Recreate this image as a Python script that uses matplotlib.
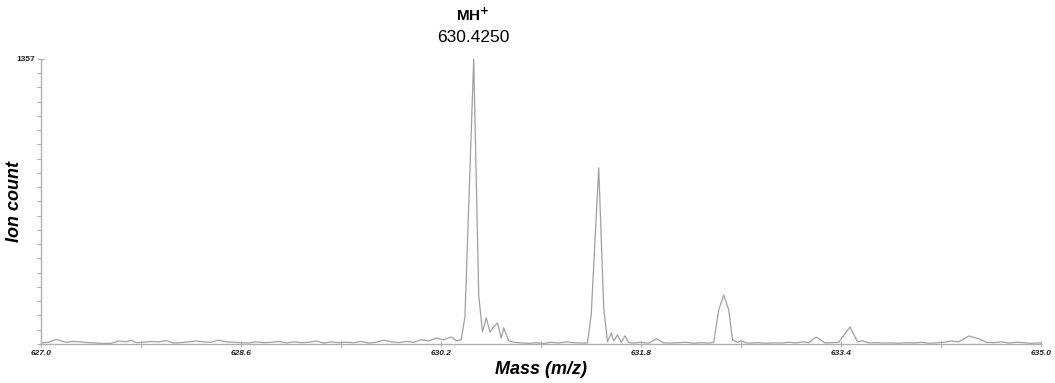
import matplotlib
matplotlib.use("Agg")
import matplotlib.pyplot as plt
import numpy as np

plt.rcParams['font.family'] = ['Liberation Sans', 'DejaVu Sans']

# spectrum vertices (m/z, ion count)
mass = [627.00, 627.06, 627.12, 627.16, 627.20, 627.26, 627.32, 627.38, 627.44, 627.50,
        627.56, 627.62, 627.68, 627.72, 627.76, 627.82, 627.88, 627.94, 628.00, 628.06,
        628.12, 628.18, 628.24, 628.30, 628.36, 628.42, 628.48, 628.54, 628.60, 628.66,
        628.72, 628.78, 628.84, 628.90, 628.96, 629.02, 629.08, 629.14, 629.20, 629.26,
        629.32, 629.38, 629.44, 629.50, 629.56, 629.62, 629.68, 629.74, 629.80, 629.86,
        629.92, 629.98, 630.04, 630.10, 630.16, 630.22, 630.28, 630.32, 630.36, 630.39,
        630.46, 630.50, 630.53, 630.56, 630.59, 630.62, 630.65, 630.68, 630.70, 630.74,
        630.78, 630.84, 630.90, 630.96, 631.02, 631.08, 631.14, 631.20, 631.26, 631.32,
        631.37, 631.40, 631.46, 631.50, 631.53, 631.56, 631.58, 631.61, 631.64, 631.67,
        631.70, 631.74, 631.80, 631.86, 631.92, 631.98, 632.04, 632.10, 632.16, 632.22,
        632.28, 632.34, 632.38, 632.42, 632.46, 632.50, 632.53, 632.57, 632.60, 632.64,
        632.68, 632.74, 632.80, 632.86, 632.92, 632.98, 633.04, 633.10, 633.14, 633.20,
        633.27, 633.33, 633.38, 633.47, 633.53, 633.57, 633.62, 633.68, 633.74, 633.80,
        633.86, 633.92, 633.98, 634.04, 634.10, 634.16, 634.22, 634.28, 634.34, 634.42,
        634.50, 634.56, 634.62, 634.68, 634.74, 634.80, 634.86, 634.92, 635.00]
counts = [5, 8, 22, 14, 8, 12, 10, 6, 4, 2,
          3, 14, 10, 18, 6, 8, 12, 10, 16, 4,
          6, 10, 14, 10, 8, 18, 10, 8, 6, 4,
          10, 6, 8, 12, 5, 10, 6, 8, 14, 4,
          10, 6, 8, 6, 12, 4, 8, 18, 10, 6,
          12, 8, 20, 14, 28, 20, 33, 15, 20, 130,
          1357, 233, 57, 124, 57, 81, 100, 28, 76, 15,
          8, 5, 3, 6, 2, 8, 4, 10, 6, 4,
          5, 140, 838, 171, 10, 52, 14, 43, 8, 38,
          6, 4, 8, 3, 25, 5, 4, 6, 8, 3,
          6, 4, 8, 162, 233, 162, 20, 8, 15, 5,
          4, 6, 3, 5, 4, 8, 5, 10, 6, 33,
          5, 6, 8, 81, 10, 15, 5, 6, 4, 5,
          3, 6, 4, 8, 3, 5, 8, 14, 10, 38,
          25, 8, 6, 10, 4, 8, 6, 3, 5]

xticks = [627.0, 628.6, 630.2, 631.8, 633.4, 635.0]
ymax = 1357

fig = plt.figure(figsize=(10.55, 3.83), dpi=100)
ax = fig.add_axes([0.039, 0.102, 0.948, 0.744])
ax.plot(mass, counts, color='#a0a0a0', linewidth=0.9)

ax.set_xlim(627.0, 635.0)
ax.set_ylim(0, ymax)
for s in ['top', 'right']:
    ax.spines[s].set_visible(False)
for s in ['left', 'bottom']:
    ax.spines[s].set_color('#b0b0b0')
    ax.spines[s].set_linewidth(1.0)

ax.set_xticks(xticks)
ax.set_xticklabels([f"{t:.1f}" for t in xticks], fontsize=6, fontweight='bold',
                   fontstyle='italic', color='#222222')
ax.set_xticks(np.arange(627.8, 635.0, 1.6), minor=True)
ax.set_yticks([ymax])
ax.set_yticklabels([str(ymax)], fontsize=6, fontweight='bold', color='#222222')
ax.set_yticks(np.linspace(0, ymax, 21)[:-1], minor=True)
ax.tick_params(axis='both', which='both', color='#b0b0b0', direction='inout',
               length=5, width=0.8, pad=2)
ax.tick_params(axis='y', which='minor', direction='out', length=3)

ax.set_xlabel("Mass (m/z)", fontsize=13, fontweight='bold', fontstyle='italic', labelpad=3)
ax.set_ylabel("Ion count", fontsize=13, fontweight='bold', fontstyle='italic')
ax.yaxis.set_label_coords(-0.018, 0.5)

ax.annotate("630.4250", xy=(630.456, ymax), xytext=(0, 10), textcoords='offset points',
            ha='center', va='bottom', fontsize=12.5, annotation_clip=False)
ax.annotate("MH$^{\\mathbf{+}}$", xy=(630.456, ymax), xytext=(0, 25), textcoords='offset points',
            ha='center', va='bottom', fontsize=11, fontweight='bold', annotation_clip=False)

fig.savefig("out.png", dpi=100, facecolor='white')
